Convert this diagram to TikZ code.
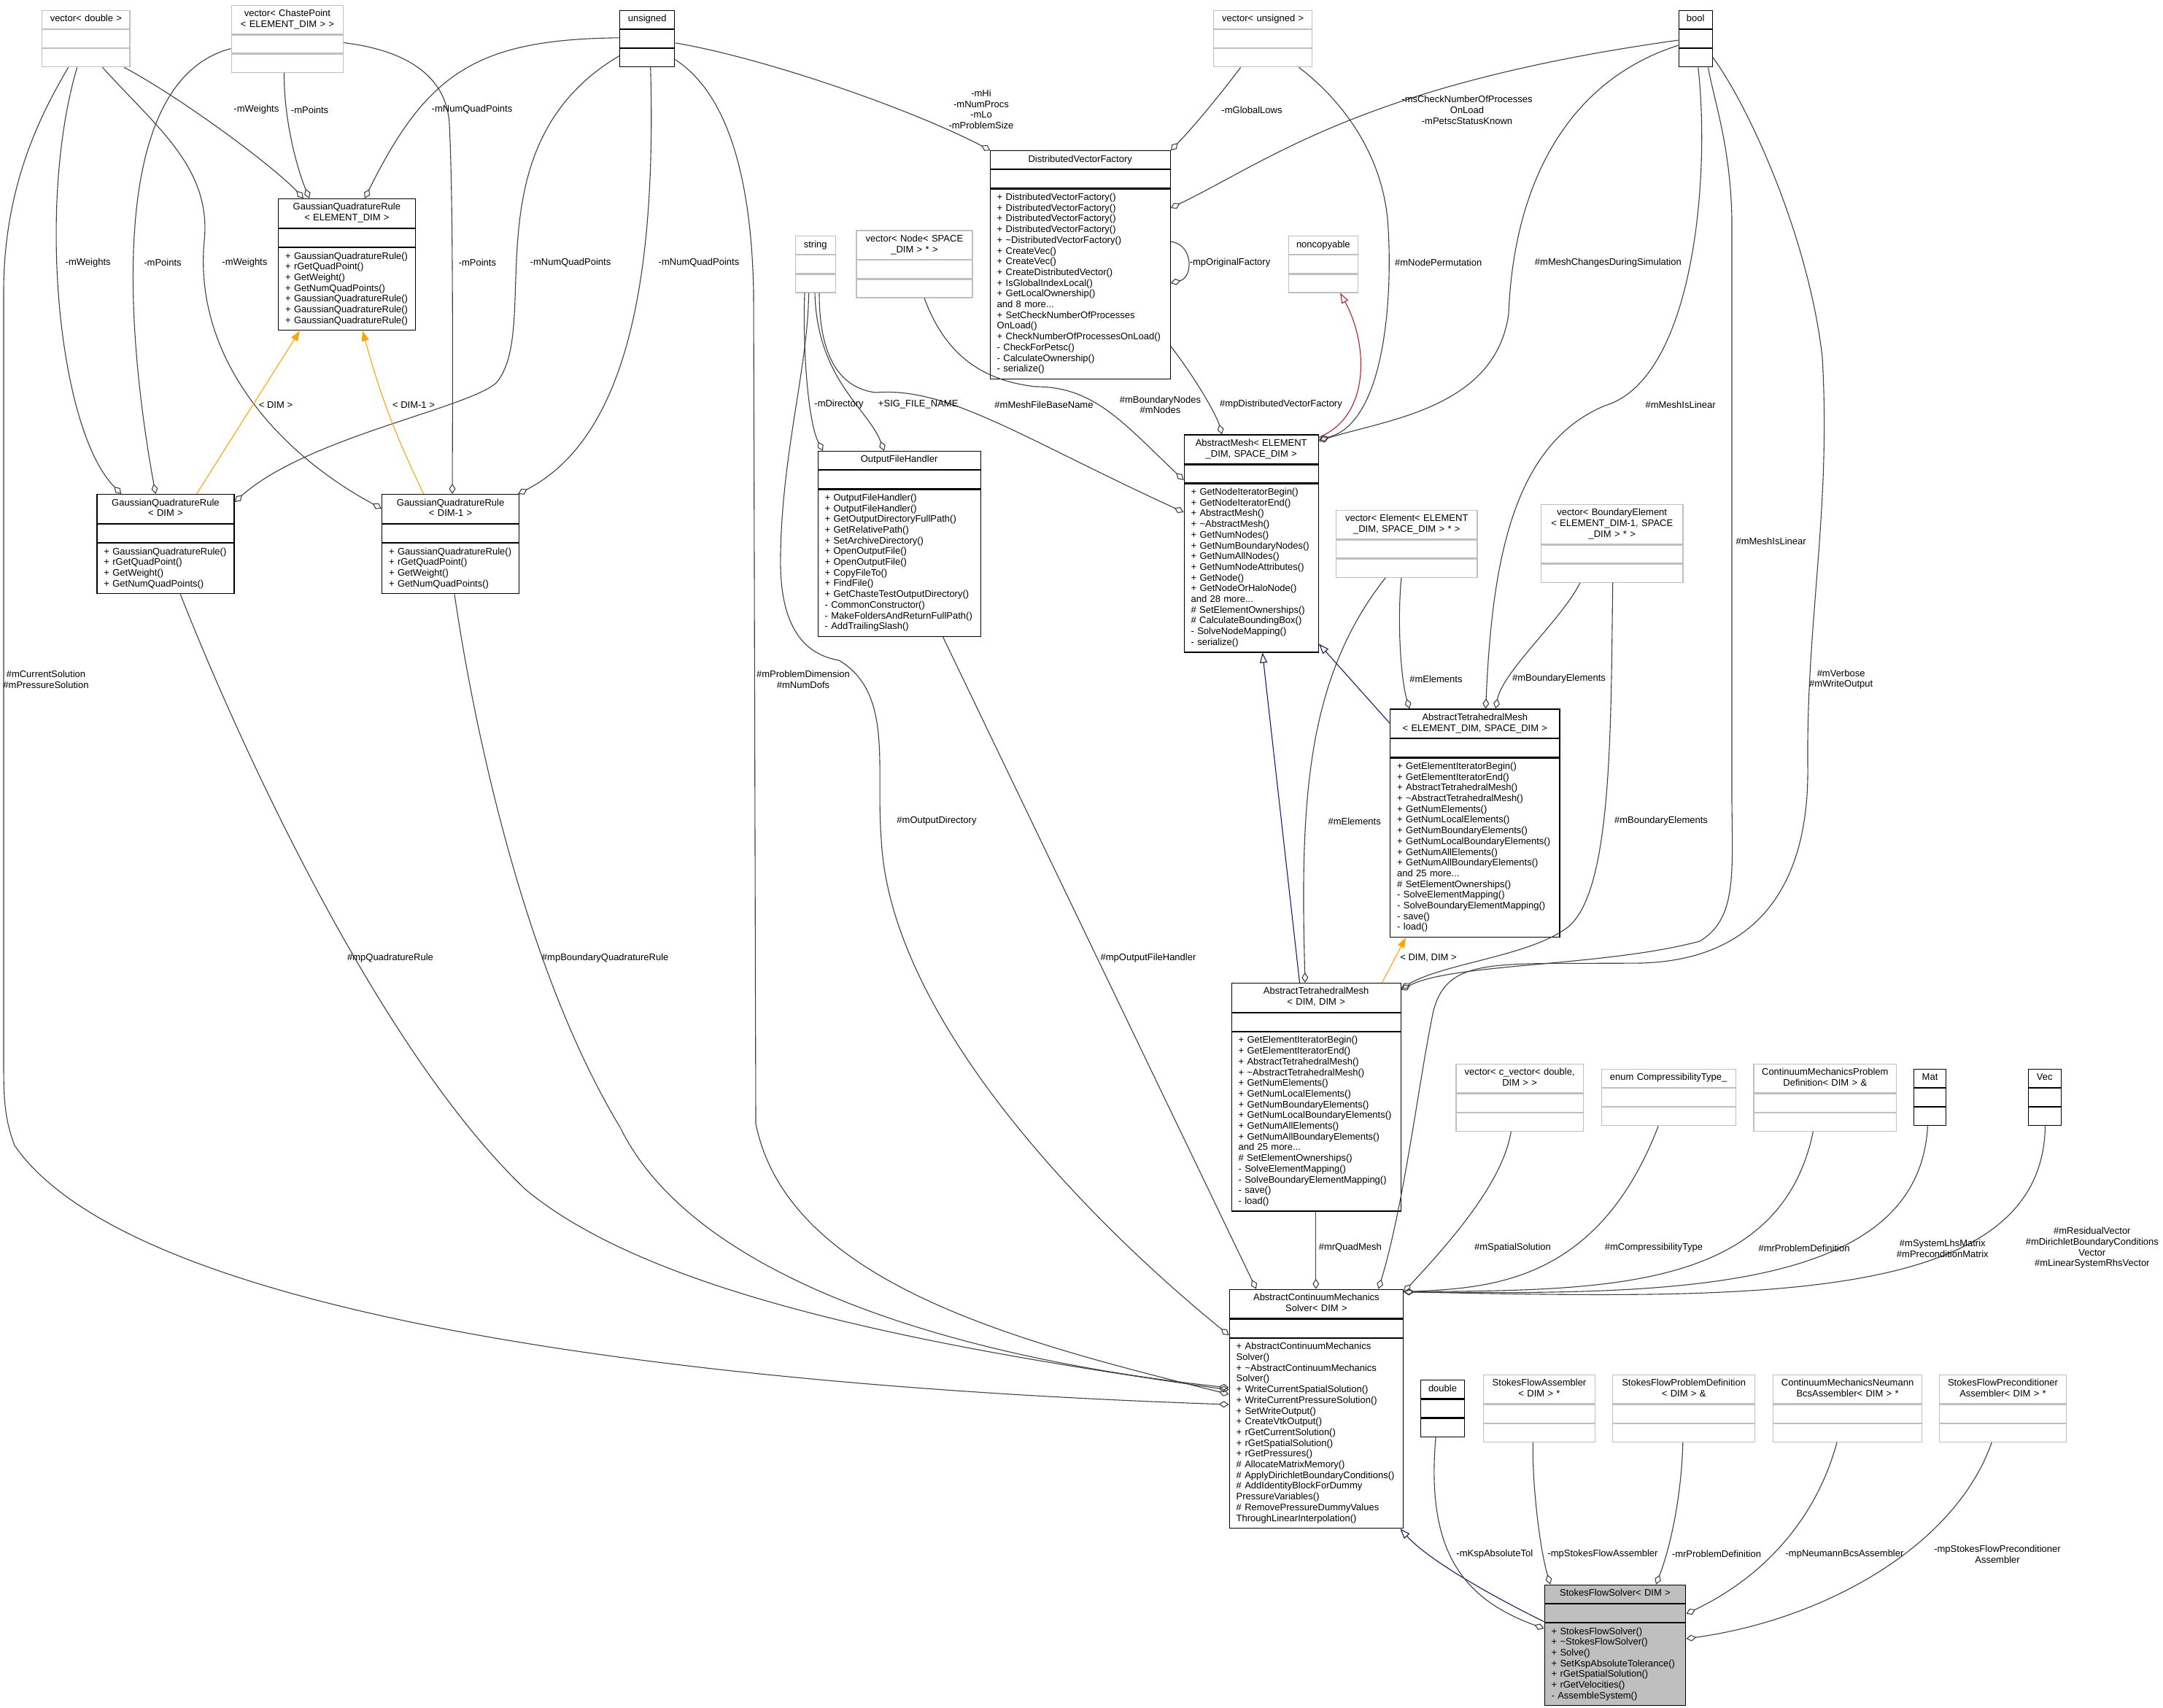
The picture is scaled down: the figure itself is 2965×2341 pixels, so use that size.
\documentclass[tikz,border=0pt]{standalone}
\usepackage{fontspec}
\setmainfont{Liberation Sans}
\usetikzlibrary{arrows.meta,calc}

\definecolor{edgegray}{RGB}{64,64,64}
\definecolor{boxgray}{RGB}{191,191,191}
\definecolor{inhblue}{RGB}{25,25,112}
\definecolor{tplorange}{RGB}{255,165,0}
\definecolor{privred}{RGB}{178,34,34}

\newcommand{\dxfont}{\fontsize{13}{14.7}\selectfont}
% class box: name, style, position, text width, title, members
\newcommand{\classbox}[6]{%
  \node[#2, text width=#4, align=center] (#1) at #3 {\strut#5\strut};
  \node[#2, minimum width=#4+6pt, minimum height=25pt, inner sep=0pt] (#1-a) at (#1.south west) {};
  \node[#2, text width=#4, align=left] (#1-m) at (#1-a.south west) {\leftskip=6.5pt\strut#6\strut\par};
}
\hyphenpenalty=10000
\exhyphenpenalty=10000

\begin{document}
\begin{tikzpicture}[x=1pt, y=-1pt,
  cls/.style={draw=black, fill=white, line width=1.2pt, inner xsep=3pt, inner ysep=5.15pt,
    anchor=north west, font=\dxfont},
  ext/.style={cls, draw=boxgray},
  cur/.style={cls, fill=boxgray},
  agg/.style={draw=edgegray, line width=1.1pt, {Diamond[open,length=14pt,width=9pt]}-},
  inh/.style={draw=inhblue, line width=1.1pt, -{Triangle[open,length=14pt,width=10pt]}},
  tpl/.style={draw=tplorange, line width=1.1pt, -{Triangle[length=14pt,width=10pt]}},
  lbl/.style={font=\dxfont, align=center, inner sep=0pt}]

\fill[white, use as bounding box] (0,0) rectangle (2965,2341);

% type boxes, top row
\classbox{vd}{ext}{(57.2,13.8)}{114.2pt}{vector< double >}{}
\classbox{vcp}{ext}{(316.5,6.6)}{147.7pt}{vector< ChastePoint\\< ELEMENT\_DIM > >}{}
\classbox{uns}{cls}{(849,13.8)}{69.2pt}{unsigned}{}
\classbox{vuns}{ext}{(1663.2,13.8)}{128.8pt}{vector< unsigned >}{}
\classbox{bool}{cls}{(2300.5,13.8)}{40.3pt}{bool}{}

% quadrature rules
\classbox{gqrE}{cls}{(381,271.9)}{181.6pt}{GaussianQuadratureRule\\< ELEMENT\_DIM >}{+ GaussianQuadratureRule()\\+ rGetQuadPoint()\\+ GetWeight()\\+ GetNumQuadPoints()\\+ GaussianQuadratureRule()\\+ GaussianQuadratureRule()\\+ GaussianQuadratureRule()}
\classbox{gqrD}{cls}{(132.3,677)}{182.1pt}{GaussianQuadratureRule\\< DIM >}{+ GaussianQuadratureRule()\\+ rGetQuadPoint()\\+ GetWeight()\\+ GetNumQuadPoints()}
\classbox{gqrD1}{cls}{(523,677)}{182pt}{GaussianQuadratureRule\\< DIM-1 >}{+ GaussianQuadratureRule()\\+ rGetQuadPoint()\\+ GetWeight()\\+ GetNumQuadPoints()}

% middle band
\classbox{str}{ext}{(1089.5,323)}{49.3pt}{string}{}
\classbox{vnode}{ext}{(1173.4,315.3)}{152.9pt}{vector< Node< SPACE\\\_DIM > * >}{}
\classbox{dvf}{cls}{(1356.6,206.1)}{241pt}{DistributedVectorFactory}{+ DistributedVectorFactory()\\+ DistributedVectorFactory()\\+ DistributedVectorFactory()\\+ DistributedVectorFactory()\\+ \textasciitilde DistributedVectorFactory()\\+ CreateVec()\\+ CreateVec()\\+ CreateDistributedVector()\\+ IsGlobalIndexLocal()\\+ GetLocalOwnership()\\and 8 more...\\+ SetCheckNumberOfProcesses\\OnLoad()\\+ CheckNumberOfProcessesOnLoad()\\- CheckForPetsc()\\- CalculateOwnership()\\- serialize()}
\classbox{nonc}{ext}{(1766,323)}{88.5pt}{noncopyable}{}
\classbox{amesh}{cls}{(1622.5,595.4)}{178.2pt}{AbstractMesh< ELEMENT\\\_DIM, SPACE\_DIM >}{+ GetNodeIteratorBegin()\\+ GetNodeIteratorEnd()\\+ AbstractMesh()\\+ \textasciitilde AbstractMesh()\\+ GetNumNodes()\\+ GetNumBoundaryNodes()\\+ GetNumAllNodes()\\+ GetNumNodeAttributes()\\+ GetNode()\\+ GetNodeOrHaloNode()\\and 28 more...\\\# SetElementOwnerships()\\\# CalculateBoundingBox()\\- SolveNodeMapping()\\- serialize()}
\classbox{ofh}{cls}{(1120.5,617.9)}{217pt}{OutputFileHandler}{+ OutputFileHandler()\\+ OutputFileHandler()\\+ GetOutputDirectoryFullPath()\\+ GetRelativePath()\\+ SetArchiveDirectory()\\+ OpenOutputFile()\\+ OpenOutputFile()\\+ CopyFileTo()\\+ FindFile()\\+ GetChasteTestOutputDirectory()\\- CommonConstructor()\\- MakeFoldersAndReturnFullPath()\\- AddTrailingSlash()}
\classbox{vel}{ext}{(1831,698.5)}{187.4pt}{vector< Element< ELEMENT\\\_DIM, SPACE\_DIM > * >}{}
\classbox{vbe}{ext}{(2112,690.8)}{188.3pt}{vector< BoundaryElement\\< ELEMENT\_DIM-1, SPACE\\\_DIM > * >}{}

% tetrahedral meshes
\classbox{atetE}{cls}{(1905.1,971.3)}{226.2pt}{AbstractTetrahedralMesh\\< ELEMENT\_DIM, SPACE\_DIM >}{+ GetElementIteratorBegin()\\+ GetElementIteratorEnd()\\+ AbstractTetrahedralMesh()\\+ \textasciitilde AbstractTetrahedralMesh()\\+ GetNumElements()\\+ GetNumLocalElements()\\+ GetNumBoundaryElements()\\+ GetNumLocalBoundaryElements()\\+ GetNumAllElements()\\+ GetNumAllBoundaryElements()\\and 25 more...\\\# SetElementOwnerships()\\- SolveElementMapping()\\- SolveBoundaryElementMapping()\\- save()\\- load()}
\classbox{atetD}{cls}{(1687.5,1346.8)}{226.1pt}{AbstractTetrahedralMesh\\< DIM, DIM >}{+ GetElementIteratorBegin()\\+ GetElementIteratorEnd()\\+ AbstractTetrahedralMesh()\\+ \textasciitilde AbstractTetrahedralMesh()\\+ GetNumElements()\\+ GetNumLocalElements()\\+ GetNumBoundaryElements()\\+ GetNumLocalBoundaryElements()\\+ GetNumAllElements()\\+ GetNumAllBoundaryElements()\\and 25 more...\\\# SetElementOwnerships()\\- SolveElementMapping()\\- SolveBoundaryElementMapping()\\- save()\\- load()}

% solver members
\classbox{vcv}{ext}{(1995.3,1457.6)}{168.5pt}{vector< c\_vector< double,\\DIM > >}{}
\classbox{enum}{ext}{(2194.5,1464.7)}{178pt}{enum CompressibilityType\_}{}
\classbox{cmpd}{ext}{(2403.4,1457.6)}{189.6pt}{ContinuumMechanicsProblem\\Definition< DIM > \&}{}
\classbox{mat}{cls}{(2623,1464.7)}{37.8pt}{Mat}{}
\classbox{vec}{cls}{(2779.5,1464.7)}{39.4pt}{Vec}{}

\classbox{acms}{cls}{(1684.6,1766.7)}{232.4pt}{AbstractContinuumMechanics\\Solver< DIM >}{+ AbstractContinuumMechanics\\Solver()\\+ \textasciitilde AbstractContinuumMechanics\\Solver()\\+ WriteCurrentSpatialSolution()\\+ WriteCurrentPressureSolution()\\+ SetWriteOutput()\\+ CreateVtkOutput()\\+ rGetCurrentSolution()\\+ rGetSpatialSolution()\\+ rGetPressures()\\\# AllocateMatrixMemory()\\\# ApplyDirichletBoundaryConditions()\\\# AddIdentityBlockForDummy\\PressureVariables()\\\# RemovePressureDummyValues\\ThroughLinearInterpolation()}

% bottom row
\classbox{dbl}{cls}{(1946.8,1891.2)}{54.2pt}{double}{}
\classbox{sfa}{ext}{(2032.6,1883.7)}{147.6pt}{StokesFlowAssembler\\< DIM > *}{}
\classbox{sfpd}{ext}{(2210.2,1883.7)}{188.7pt}{StokesFlowProblemDefinition\\< DIM > \&}{}
\classbox{cmnb}{ext}{(2429.8,1883.7)}{198.3pt}{ContinuumMechanicsNeumann\\BcsAssembler< DIM > *}{}
\classbox{sfpa}{ext}{(2657.6,1883.7)}{168.6pt}{StokesFlowPreconditioner\\Assembler< DIM > *}{}
\classbox{sfs}{cur}{(2116.5,2171.6)}{187.7pt}{StokesFlowSolver< DIM >}{+ StokesFlowSolver()\\+ \textasciitilde StokesFlowSolver()\\+ Solve()\\+ SetKspAbsoluteTolerance()\\+ rGetSpatialSolution()\\+ rGetVelocities()\\- AssembleSystem()}

% quadrature rule members
\draw[agg] ($(gqrE.north west)+(35,0)$) .. controls (375,228) and (250,135) .. ($(vd-m.south west)+(113,0)$);
\draw[agg] ($(gqrE.north west)+(43,0)$) .. controls (405,225) and (389,160) .. ($(vcp-m.south west)+(73,0)$);
\draw[agg] ($(gqrE.north west)+(119,0)$) .. controls (586,98) and (655,54) .. ($(uns.north west)+(0,38)$);
\draw[agg] ($(gqrD.north west)+(34,0)$) .. controls (80,590) and (50,280) .. ($(vd-m.south west)+(48.5,0)$);
\draw[agg] ($(gqrD.north west)+(81,0)$) .. controls (170,440) and (150,110) .. ($(vcp.north west)+(0,60)$);
\draw[agg] ($(gqrD.north east)+(0,11)$) .. controls (420,600) and (640,560) .. (680,525) .. controls (745,450) and (640,200) .. ($(uns.north west)+(0,62.7)$);
\draw[agg] ($(gqrD1.north west)+(0,20)$) .. controls (380,620) and (265,490) .. (280,330) .. controls (290,230) and (215,175) .. ($(vd-m.south west)+(83.4,0)$);
\draw[agg] ($(gqrD1.north west)+(97,0)$) .. controls (621,400) and (620,250) .. (616,170) .. controls (612,100) and (550,68) .. ($(vcp.north east)+(0,52)$);
\draw[agg] ($(gqrD1.north east)+(-2,0)$) .. controls (860,600) and (900,380) .. ($(uns-m.south west)+(42.7,0)$);
\draw[tpl] ($(gqrD.north west)+(137.2,0)$) -- ($(gqrE-m.south west)+(30,0)$);
\draw[tpl] ($(gqrD1.north west)+(57.7,0)$) to[bend left=5] ($(gqrE-m.south west)+(116,0)$);

% vector factory
\draw[agg] ($(dvf.north west)+(1,0)$) .. controls (1250,150) and (1050,80) .. ($(uns.north east)+(0,45)$);
\draw[agg] (dvf.north east) .. controls (1640,170) and (1680,120) .. ($(vuns-m.south west)+(37.4,0)$);
\draw[agg] ($(dvf.north east)+(0,79)$) .. controls (1740,220) and (1870,115) .. ($(bool.north west)+(0,41.3)$);
\draw[agg] ($(dvf.north east)+(0,182)$) .. controls (1636,380) and (1636,335) .. ($(dvf.north east)+(0,125)$);

% output file handler
\draw[agg] ($(ofh.north west)+(7.5,0)$) .. controls (1108,580) and (1100,480) .. ($(str-m.south west)+(13.5,0)$);
\draw[agg] ($(ofh.north west)+(91.5,0)$) .. controls (1190,560) and (1120,520) .. ($(str-m.south west)+(27.5,0)$);

% abstract mesh
\draw[agg] ($(amesh.north west)+(0,106.6)$) .. controls (1400,600) and (1300,530) .. (1200,538) .. controls (1140,530) and (1123,470) .. ($(str-m.south west)+(33.5,0)$);
\draw[agg] ($(amesh.north west)+(0,62.6)$) .. controls (1540,580) and (1500,530) .. (1420,530) .. controls (1330,520) and (1290,470) .. ($(vnode-m.south west)+(93.6,0)$);
\draw[agg] ($(amesh.north west)+(52.5,0)$) .. controls (1668,570) and (1640,520) .. ($(dvf.north east)+(0,268.4)$);
\draw[inh, draw=privred] ($(amesh.north east)+(0,4)$) .. controls (1880,570) and (1875,470) .. ($(nonc-m.south west)+(71,0)$);
\draw[agg] ($(amesh.north east)+(0,7)$) .. controls (1900,580) and (1910,400) .. (1902,300) .. controls (1892,200) and (1830,130) .. ($(vuns-m.south west)+(117.3,0)$);
\draw[agg] ($(amesh.north east)+(0,9)$) .. controls (1900,575) and (2050,560) .. (2068,430) .. controls (2075,250) and (2150,110) .. ($(bool.north west)+(0,48.4)$);

% tetrahedral meshes
\draw[agg] ($(atetE.north west)+(131.4,0)$) .. controls (2045,780) and (2070,610) .. (2200,556) .. controls (2320,520) and (2345,250) .. ($(bool-m.south west)+(27.3,0)$);
\draw[agg] ($(atetE.north west)+(27,0)$) .. controls (1920,930) and (1915,850) .. ($(vel-m.south west)+(90,0)$);
\draw[agg] ($(atetE.north west)+(145,0)$) .. controls (2060,920) and (2140,850) .. ($(vbe-m.south west)+(54,0)$);
\draw[inh] ($(atetE.north west)+(0,20)$) -- ($(amesh-m.south east)+(0,-12)$);
\draw[inh] ($(atetD.north west)+(94,0)$) -- ($(amesh-m.south west)+(108,0)$);
\draw[tpl] ($(atetD.north west)+(207,0)$) -- ($(atetE-m.south west)+(22,0)$);
\draw[agg] ($(atetD.north west)+(101.5,0)$) .. controls (1782,1100) and (1790,930) .. ($(vel-m.south west)+(68.3,0)$);
\draw[agg] ($(atetD.north east)+(0,8)$) .. controls (1980,1320) and (2100,1310) .. (2150,1270) .. controls (2210,1220) and (2208,1000) .. ($(vbe-m.south west)+(98.7,0)$);
\draw[agg] ($(atetD.north east)+(0,10)$) .. controls (1990,1320) and (2200,1325) .. (2330,1290) .. controls (2380,1260) and (2375,1200) .. (2374,1100) -- (2374,300) .. controls (2372,200) and (2350,140) .. ($(bool-m.south west)+(41,0)$);

% continuum mechanics solver
\draw[agg] ($(acms.north west)+(205,0)$) .. controls (1925,1650) and (1945,1480) .. (1965,1385) .. controls (1985,1310) and (2050,1322) .. (2250,1320) .. controls (2420,1315) and (2480,1200) .. (2478,1050) .. controls (2476,850) and (2510,700) .. (2498,490) .. controls (2480,330) and (2400,150) .. ($(bool.north east)+(0,65)$);
\draw[agg] ($(acms.north west)+(0,144.3)$) .. controls (1400,1840) and (1080,1760) .. (1036,1540) -- (1033,400) .. controls (1030,250) and (1000,130) .. ($(uns.north east)+(0,67.8)$);
\draw[agg] ($(acms.north west)+(0,63.3)$) .. controls (1500,1680) and (1220,1400) .. (1208,1150) .. controls (1200,1050) and (1225,950) .. (1150,905) .. controls (1090,895) and (1068,840) .. (1070,760) .. controls (1072,620) and (1108,500) .. ($(str-m.south west)+(19,0)$);
\draw[agg] ($(acms.north west)+(37.4,0)$) -- ($(ofh-m.south west)+(172,0)$);
\draw[agg] ($(acms.north west)+(119.2,0)$) -- ($(atetD-m.south west)+(116.3,0)$);
\draw[agg] ($(acms.north east)+(0,4)$) .. controls (1990,1700) and (2060,1620) .. ($(vcv-m.south west)+(76,0)$);
\draw[agg] ($(acms.north east)+(0,4)$) .. controls (2040,1765) and (2190,1760) .. ($(enum-m.south west)+(78.7,0)$);
\draw[agg] ($(acms.north east)+(0,4)$) .. controls (2200,1768) and (2440,1770) .. ($(cmpd-m.south west)+(82,0)$);
\draw[agg] ($(acms.north east)+(0,4)$) .. controls (2300,1775) and (2630,1770) .. ($(mat-m.south west)+(19.4,0)$);
\draw[agg] ($(acms.north east)+(0,4)$) .. controls (2400,1780) and (2800,1790) .. ($(vec-m.south west)+(24,0)$);
\draw[agg] ($(acms.north west)+(0,158.3)$) .. controls (1100,1905) and (200,1830) .. (20,1570) .. controls (5,1530) and (5,1500) .. (5,1450) -- (5,400) .. controls (5,250) and (60,150) .. ($(vd-m.south west)+(36.4,0)$);
\draw[agg] ($(acms.north west)+(0,138.3)$) .. controls (1300,1850) and (900,1780) .. (720,1630) .. controls (500,1420) and (300,950) .. ($(gqrD-m.south west)+(115,0)$);
\draw[agg] ($(acms.north west)+(0,135.3)$) .. controls (1300,1860) and (950,1750) .. (850,1545) .. controls (720,1330) and (650,1000) .. ($(gqrD1-m.south west)+(100,0)$);

% stokes flow solver
\draw[inh] ($(sfs.north west)+(0,51)$) .. controls (2050,2190) and (1960,2140) .. ($(acms-m.south east)+(-5,0)$);
\draw[agg] ($(sfs.north west)+(0,60.4)$) .. controls (2000,2190) and (1955,2120) .. ($(dbl-m.south west)+(21.3,0)$);
\draw[agg] ($(sfs.north west)+(8.5,0)$) .. controls (2110,2120) and (2100,2030) .. ($(sfa-m.south west)+(68.8,0)$);
\draw[agg] ($(sfs.north west)+(153.5,0)$) .. controls (2290,2120) and (2305,2050) .. ($(sfpd-m.south west)+(96.6,0)$);
\draw[agg] ($(sfs.north east)+(0,40.4)$) .. controls (2420,2160) and (2490,2080) .. ($(cmnb-m.south west)+(88.2,0)$);
\draw[agg] ($(sfs.north east)+(0,74.4)$) .. controls (2500,2220) and (2680,2120) .. ($(sfpa-m.south west)+(72.6,0)$);

% labels
\node[lbl] (lwE) at (351.4,150.5) {-mWeights};
\node[lbl] (lpE) at (424.6,150.5) {-mPoints};
\node[lbl] (lnE) at (647,150.5) {-mNumQuadPoints};
\node[lbl] (lwD) at (120.7,360.2) {-mWeights};
\node[lbl] (lpD) at (223,360.2) {-mPoints};
\node[lbl] (lwD1) at (335.4,360.2) {-mWeights};
\node[lbl] (lpD1) at (654.4,360.2) {-mPoints};
\node[lbl] (lnD) at (782,360.2) {-mNumQuadPoints};
\node[lbl] (lnD1) at (958,360.2) {-mNumQuadPoints};
\node[lbl] (ltD) at (378,554.6) {< DIM >};
\node[lbl] (ltD1) at (567,554.6) {< DIM-1 >};
\node[lbl] (lhi) at (1345,150) {-mHi\\-mNumProcs\\-mLo\\-mProblemSize};
\node[lbl] (lgl) at (1716,150.5) {-mGlobalLows};
\node[lbl] (lcheck) at (2011,150.7) {-msCheckNumberOfProcesses\\OnLoad\\-mPetscStatusKnown};
\node[lbl] (lorig) at (1686,360.2) {-mpOriginalFactory};
\node[lbl] (ldir) at (1150,554.6) {-mDirectory};
\node[lbl] (lsig) at (1258.7,554.6) {+SIG\_FILE\_NAME};
\node[lbl] (lbase) at (1431,554.6) {\#mMeshFileBaseName};
\node[lbl] (lnodes) at (1590.5,554.8) {\#mBoundaryNodes\\\#mNodes};
\node[lbl] (ldvf) at (1756,554.6) {\#mpDistributedVectorFactory};
\node[lbl] (lperm) at (1971.7,360.2) {\#mNodePermutation};
\node[lbl] (lchg) at (2204.4,360.2) {\#mMeshChangesDuringSimulation};
\node[lbl] (llinE) at (2303.6,554.6) {\#mMeshIsLinear};
\node[lbl] (lelE) at (1968.4,930.5) {\#mElements};
\node[lbl] (lbeE) at (2137,930.5) {\#mBoundaryElements};
\node[lbl] (llinD) at (2427.6,742.3) {\#mMeshIsLinear};
\node[lbl] (lelD) at (1856.7,1125.4) {\#mElements};
\node[lbl] (lbeD) at (2277,1125.4) {\#mBoundaryElements};
\node[lbl] (ltDD) at (1958,1313) {< DIM, DIM >};
\node[lbl] (lverb) at (2523.6,931) {\#mVerbose\\\#mWriteOutput};
\node[lbl] (ldim) at (1101,931) {\#mProblemDimension\\\#mNumDofs};
\node[lbl] (lodir) at (1284,1125.4) {\#mOutputDirectory};
\node[lbl] (lofh) at (1574,1313) {\#mpOutputFileHandler};
\node[lbl] (lquad) at (1850.8,1710.4) {\#mrQuadMesh};
\node[lbl] (lspat) at (2073.5,1710.4) {\#mSpatialSolution};
\node[lbl] (lcomp) at (2267,1710.4) {\#mCompressibilityType};
\node[lbl] (lprob) at (2473,1710.4) {\#mrProblemDefinition};
\node[lbl] (lmat) at (2662.8,1711) {\#mSystemLhsMatrix\\\#mPreconditionMatrix};
\node[lbl] (lvec) at (2867.8,1710.5) {\#mResidualVector\\\#mDirichletBoundaryConditions\\Vector\\\#mLinearSystemRhsVector};
\node[lbl] (lsol) at (63,931) {\#mCurrentSolution\\\#mPressureSolution};
\node[lbl] (lqr) at (535,1313) {\#mpQuadratureRule};
\node[lbl] (lbqr) at (829.7,1313) {\#mpBoundaryQuadratureRule};
\node[lbl] (lksp) at (2048.8,2130.2) {-mKspAbsoluteTol};
\node[lbl] (lsfa) at (2197,2130.2) {-mpStokesFlowAssembler};
\node[lbl] (lsfpd) at (2353,2130.2) {-mrProblemDefinition};
\node[lbl] (lneu) at (2528.5,2130.2) {-mpNeumannBcsAssembler};
\node[lbl] (lpre) at (2738,2130.5) {-mpStokesFlowPreconditioner\\Assembler};
\end{tikzpicture}
\end{document}
